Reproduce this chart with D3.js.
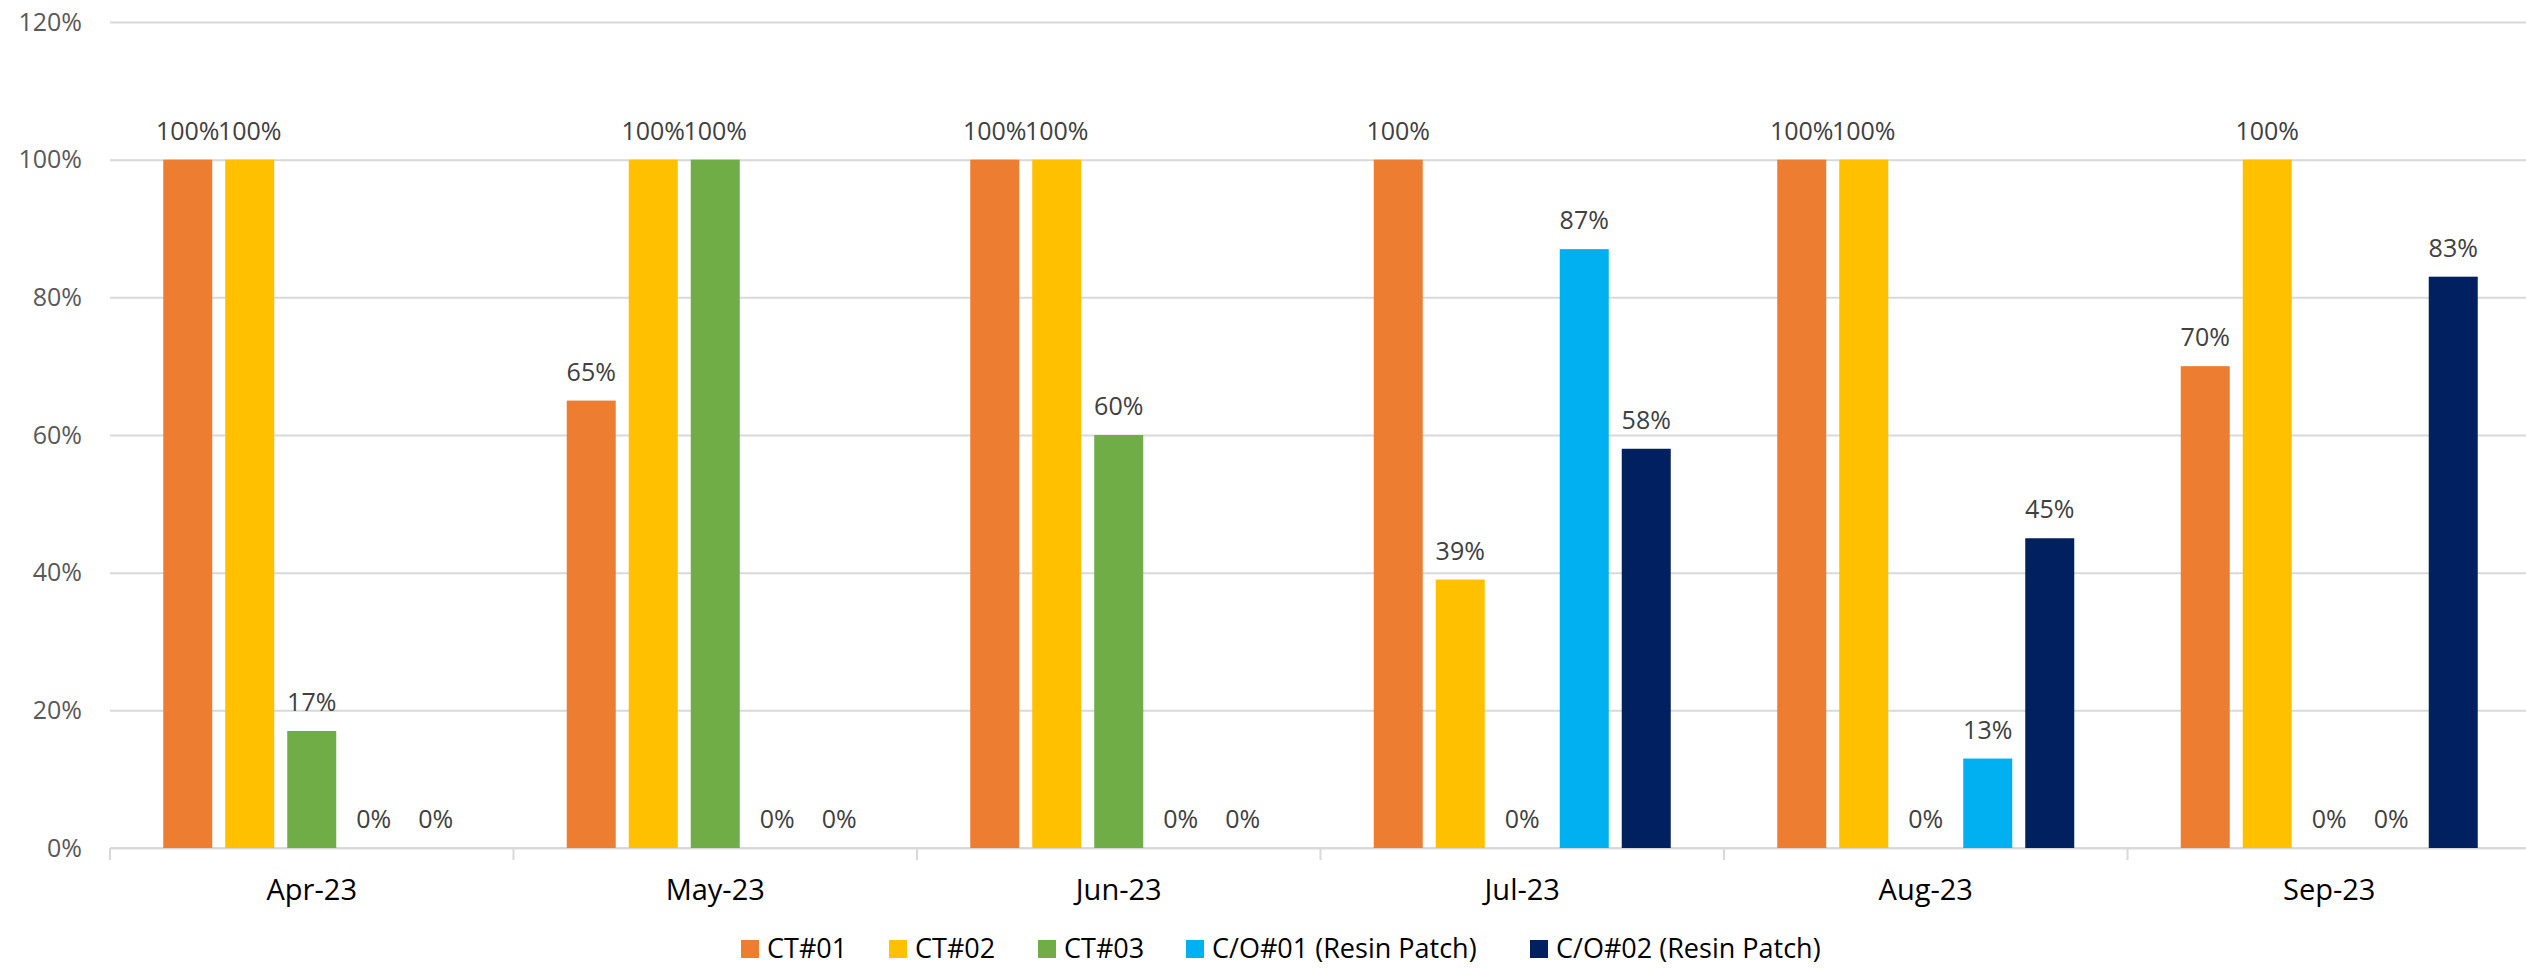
<!DOCTYPE html>
<html>
<head>
<meta charset="utf-8">
<script src="https://cdn.jsdelivr.net/npm/d3@7"></script>
<style>
  html, body { margin: 0; padding: 0; background: #ffffff; }
  svg { display: block; }
</style>
</head>
<body>
<svg id="chart" width="2526" height="968"></svg>
<script>
const categories = ["Apr-23", "May-23", "Jun-23", "Jul-23", "Aug-23", "Sep-23"];
const seriesNames = ["CT#01", "CT#02", "CT#03", "C/O#01 (Resin Patch)", "C/O#02 (Resin Patch)"];
const seriesColors = ["#ED7D31", "#FFC000", "#70AD47", "#00B0F0", "#002060"];
const ct01 = [1.00, 0.65, 1.00, 1.00, 1.00, 0.70];
const ct02 = [1.00, 1.00, 1.00, 0.39, 1.00, 1.00];
const ct03 = [0.17, 1.00, 0.60, 0.00, 0.00, 0.00];
const co01 = [0.00, 0.00, 0.00, 0.87, 0.13, 0.00];
const co02 = [0.00, 0.00, 0.00, 0.58, 0.45, 0.83];
const yTicks = [0, 0.2, 0.4, 0.6, 0.8, 1.0, 1.2];

const seriesValues = [ct01, ct02, ct03, co01, co02];

(function () {
const svg = d3.select("#chart");
svg.append("rect").attr("width", 2526).attr("height", 968).attr("fill", "#ffffff");

const mLeft = 110, mRight = 2531, gridRight = 2526, mTop = 22, mBottom = 848;

const x0 = d3.scaleBand().domain(categories).range([mLeft, mRight]).padding(0);
const bw = x0.bandwidth();
const x1 = d3.scaleBand().domain(seriesNames)
  .range([bw / 2 - 148.5, bw / 2 + 148.5]).paddingInner(13 / 62).paddingOuter(0);
const y = d3.scaleLinear().domain([0, 1.2]).range([mBottom, mTop]);

// Y axis with gridlines
const yAxis = d3.axisLeft(y).tickValues(yTicks).tickFormat(d3.format(".0%"))
  .tickSize(-(gridRight - mLeft)).tickPadding(28);
const gy = svg.append("g").attr("transform", `translate(${mLeft},0)`).call(yAxis);
gy.select(".domain").remove();
gy.selectAll(".tick line").attr("stroke", "#d9d9d9").attr("stroke-width", 2);
gy.selectAll(".tick text")
  .attr("fill", "#595959")
  .style("font-family", "'Open Sans', sans-serif")
  .style("font-size", "25px");

// X axis labels
const xAxis = d3.axisBottom(x0).tickSize(0).tickPadding(31);
const gx = svg.append("g").attr("transform", `translate(0,${mBottom})`).call(xAxis);
gx.select(".domain").remove();
gx.selectAll(".tick text")
  .attr("fill", "#000000")
  .style("font-family", "'Open Sans', sans-serif")
  .style("font-size", "29px");

// Baseline and boundary ticks
svg.append("line").attr("x1", mLeft).attr("x2", gridRight).attr("y1", y(0)).attr("y2", y(0))
  .attr("stroke", "#d9d9d9").attr("stroke-width", 2);
const boundaries = categories.map(c => x0(c)).concat([x0.range()[1]]);
svg.append("g").selectAll("line").data(boundaries).join("line")
  .attr("x1", d => d).attr("x2", d => d)
  .attr("y1", y(0)).attr("y2", y(0) + 12)
  .attr("stroke", "#d9d9d9").attr("stroke-width", 2);

// Bars
const data = [];
categories.forEach((c, ci) => {
  seriesNames.forEach((s, si) => {
    data.push({ cat: c, series: s, si: si, value: seriesValues[si][ci] });
  });
});

svg.append("g").selectAll("rect").data(data).join("rect")
  .attr("x", d => x0(d.cat) + x1(d.series))
  .attr("y", d => y(d.value))
  .attr("width", x1.bandwidth())
  .attr("height", d => y(0) - y(d.value))
  .attr("fill", d => seriesColors[d.si]);

// Data labels
svg.append("g").selectAll("text").data(data).join("text")
  .attr("x", d => x0(d.cat) + x1(d.series) + x1.bandwidth() / 2)
  .attr("y", d => y(d.value) - 20)
  .attr("text-anchor", "middle")
  .attr("fill", "#404040")
  .style("font-family", "'Open Sans', sans-serif")
  .style("font-size", "25px")
  .text(d => d3.format(".0%")(d.value));

// Legend
const legendX = [741, 889, 1038, 1186, 1530];
const lg = svg.append("g").selectAll("g").data(seriesNames).join("g")
  .attr("transform", (d, i) => `translate(${legendX[i]},958)`);
lg.append("rect").attr("x", 0).attr("y", -18).attr("width", 18).attr("height", 18)
  .attr("fill", (d, i) => seriesColors[i]);
lg.append("text").attr("x", 26).attr("y", 0)
  .attr("fill", "#000000")
  .style("font-family", "'Open Sans', sans-serif")
  .style("font-size", "27px")
  .text(d => d);
})();
</script>
</body>
</html>
